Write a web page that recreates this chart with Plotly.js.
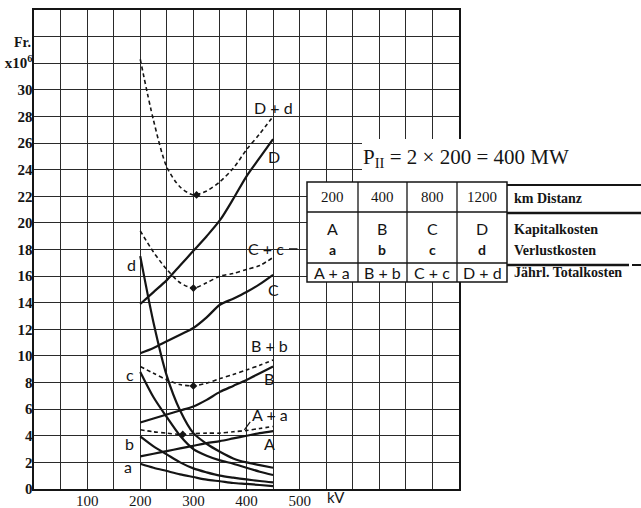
<!DOCTYPE html>
<html>
<head>
<meta charset="utf-8">
<script src="https://cdn.plot.ly/plotly-3.0.1.min.js"></script>
<style>
  body { margin: 0; background: #fff; }
  #chart { width: 641px; height: 508px; }
</style>
</head>
<body>
<div id="chart"></div>
<script>
// Spannung in kV
var kv = [200, 225, 250, 275, 300, 325, 350, 375, 400, 425, 450];

// Kapitalkosten (Fr. x 10^6)
var A = [2.45, 2.65, 2.85, 3.05, 3.25, 3.45, 3.6, 3.8, 4.0, 4.2, 4.35];
var B = [5.0, 5.3, 5.6, 5.9, 6.2, 6.7, 7.3, 7.75, 8.2, 8.7, 9.2];
var C = [10.2, 10.6, 11.1, 11.6, 12.1, 12.9, 13.85, 14.3, 14.8, 15.4, 16.1];
var D = [13.9, 14.8, 15.7, 16.8, 17.9, 19.0, 20.2, 21.8, 23.5, 24.9, 26.3];

// Verlustkosten
var a = [1.9, 1.6, 1.35, 1.1, 0.9, 0.7, 0.58, 0.45, 0.38, 0.3, 0.22];
var b = [3.95, 3.2, 2.6, 2.0, 1.55, 1.25, 1.0, 0.85, 0.72, 0.6, 0.5];
var c = [8.8, 6.9, 5.4, 4.0, 3.0, 2.5, 2.15, 1.9, 1.6, 1.3, 1.05];
var d = [17.5, 12.5, 8.5, 5.9, 4.2, 3.4, 2.8, 2.3, 2.0, 1.8, 1.6];

// Jährliche Totalkosten (gestrichelt)
var Aa = [4.45, 4.3, 4.2, 4.1, 4.15, 4.2, 4.2, 4.3, 4.4, 4.55, 4.7];
var Bb = [9.2, 8.7, 8.2, 7.85, 7.75, 7.95, 8.3, 8.6, 8.95, 9.3, 9.7];
var Cc = [19.4, 17.8, 16.5, 15.5, 15.1, 15.5, 16.0, 16.2, 16.5, 16.8, 17.4];
var Dd = [32.3, 27.7, 24.2, 22.7, 22.1, 22.4, 23.1, 24.1, 25.5, 26.7, 28.0];

// Minima der Totalkosten
var minKv = [280, 300, 300, 306];
var minCost = [4.1, 7.75, 15.1, 22.1];

// Achsen
var xTicks = [];
for (var i = 0; i <= 800; i += 50) xTicks.push(i);
var xText = xTicks.map(function (v) { return (v >= 100 && v <= 500 && v % 100 == 0) ? String(v) : ""; });
var yTicks = [];
for (var j = 0; j <= 36; j += 2) yTicks.push(j);
var yText = yTicks.map(function (v) { return v <= 30 ? String(v) : (v == 32 ? "x10<sup>6</sup>" : ""); });

// Tabelle
var distanz = ["200", "400", "800", "1200"];
var kapital = ["A", "B", "C", "D"];
var verlust = ["a", "b", "c", "d"];
var total = ["A + a", "B + b", "C + c", "D + d"];
var rowLabels = ["km Distanz", "Kapitalkosten", "Verlustkosten", "Jährl. Totalkosten"];

var ink = "#151515";
function solid(y) {
  return {x: kv, y: y, mode: "lines", line: {color: ink, width: 2.2, shape: "spline", smoothing: 0.8}};
}
function dashed(y) {
  return {x: kv, y: y, mode: "lines", line: {color: ink, width: 1.6, dash: "4px,3px", shape: "spline", smoothing: 0.8}};
}

var data = [solid(A), solid(B), solid(C), solid(D),
            solid(a), solid(b), solid(c), solid(d),
            dashed(Aa), dashed(Bb), dashed(Cc), dashed(Dd),
            {x: minKv, y: minCost, mode: "markers", marker: {color: ink, size: 6, symbol: "diamond"}}];

// Pixel -> paper (Plotbereich 34..459 x 10..489)
function px(x) { return (x - 34) / 425; }
function py(y) { return (489 - y) / 479; }

var shapes = [
  // weisser Grund hinter dem Titel
  {type: "rect", xref: "paper", yref: "paper", x0: px(362), x1: px(463), y0: py(182), y1: py(139),
   fillcolor: "#fff", line: {width: 0}, layer: "above"},
  // Tabelle
  {type: "rect", xref: "paper", yref: "paper", x0: px(307), x1: px(507), y0: py(282), y1: py(182),
   fillcolor: "#fff", line: {color: ink, width: 1.5}, layer: "above"},
  {type: "line", xref: "paper", yref: "paper", x0: px(307), x1: px(507), y0: py(212), y1: py(212), line: {color: ink, width: 1.3}, layer: "above"},
  {type: "line", xref: "paper", yref: "paper", x0: px(307), x1: px(507), y0: py(263), y1: py(263), line: {color: ink, width: 1.3}, layer: "above"},
  {type: "line", xref: "paper", yref: "paper", x0: px(358), x1: px(358), y0: py(182), y1: py(282), line: {color: ink, width: 1.3}, layer: "above"},
  {type: "line", xref: "paper", yref: "paper", x0: px(407), x1: px(407), y0: py(182), y1: py(282), line: {color: ink, width: 1.3}, layer: "above"},
  {type: "line", xref: "paper", yref: "paper", x0: px(457), x1: px(457), y0: py(182), y1: py(282), line: {color: ink, width: 1.3}, layer: "above"},
  {type: "line", xref: "paper", yref: "paper", x0: px(507), x1: px(641), y0: py(185), y1: py(185), line: {color: ink, width: 2}, layer: "above"},
  {type: "line", xref: "paper", yref: "paper", x0: px(507), x1: px(641), y0: py(213), y1: py(213), line: {color: ink, width: 2.5}, layer: "above"},
  {type: "line", xref: "paper", yref: "paper", x0: px(507), x1: px(629), y0: py(265), y1: py(265), line: {color: ink, width: 2.5}, layer: "above"},
  {type: "line", xref: "paper", yref: "paper", x0: px(632), x1: px(641), y0: py(265), y1: py(265), line: {color: ink, width: 2}, layer: "above"},
  // Hinweisstrich A + a
  {type: "line", xref: "x", yref: "y", x0: 407, x1: 396, y0: 5.05, y1: 4.45, line: {color: ink, width: 1.2}},
  // Strich hinter C + c
  {type: "line", xref: "x", yref: "y", x0: 480, x1: 496, y0: 18.05, y1: 18.05, line: {color: ink, width: 1.2}}
];

var lblFont = {family: "Lato, 'DejaVu Sans', sans-serif", size: 16, color: ink};
function lbl(t, x, y) {
  return {text: t, x: x, y: y, xref: "x", yref: "y", showarrow: false, font: lblFont,
          xanchor: "center", yanchor: "middle"};
}
function cell(t, x, y, f) {
  return {text: t, x: px(x), y: py(y), xref: "paper", yref: "paper", showarrow: false, font: f,
          xanchor: "center", yanchor: "middle"};
}

var numFont = {family: "'Liberation Serif', serif", size: 15, color: ink};
var capFont = {family: "Lato, sans-serif", size: 16, color: ink};
var smallFont = {family: "Lato, sans-serif", size: 14, color: ink, weight: "bold"};
var rowFont = {family: "'Liberation Serif', serif", size: 14, color: ink, weight: "bold"};
var colX = [332, 382, 432, 482];

var annotations = [
  lbl("D + d", 450, 28.7), lbl("D", 452, 25.0),
  lbl("C + c", 437, 18.1), lbl("C", 450, 15.0),
  lbl("B + b", 444, 10.8), lbl("B", 443, 8.3),
  lbl("A + a", 444, 5.6), lbl("A", 443, 3.4),
  lbl("d", 184, 16.9), lbl("c", 180, 8.6), lbl("b", 180, 3.4), lbl("a", 177, 1.7),
  cell("P<sub>II</sub> = 2 × 200 = 400 MW", 466, 158, {family: "'Liberation Serif', serif", size: 21, color: ink}),
  cell("Fr.", 22, 42, {family: "'Liberation Serif', serif", size: 14, color: ink, weight: "bold"}),
  cell("kV", 336, 497, {family: "Lato, sans-serif", size: 15, color: ink})
];
for (var k = 0; k < 4; k++) {
  annotations.push(cell(distanz[k], colX[k], 197, numFont));
  annotations.push(cell(kapital[k], colX[k], 228, capFont));
  annotations.push(cell(verlust[k], colX[k], 249, smallFont));
  annotations.push(cell(total[k], colX[k], 272, capFont));
}
var rowY = [198, 229, 250, 272];
for (var r = 0; r < 4; r++) {
  var an = cell(rowLabels[r], 512, rowY[r], rowFont);
  an.xanchor = "left";
  annotations.push(an);
}

var layout = {
  width: 641, height: 508,
  margin: {l: 34, r: 182, t: 10, b: 19},
  paper_bgcolor: "#fff", plot_bgcolor: "#fff",
  showlegend: false,
  xaxis: {range: [0, 800], tickvals: xTicks, ticktext: xText, ticks: "",
          showgrid: true, gridcolor: "#2a2a2a", gridwidth: 1, zeroline: false,
          showline: true, mirror: true, linecolor: ink, linewidth: 1.6,
          tickfont: {family: "'Liberation Serif', serif", size: 15, color: ink}, ticklabelstandoff: -3},
  yaxis: {range: [0, 36], tickvals: yTicks, ticktext: yText, ticks: "",
          showgrid: true, gridcolor: "#2a2a2a", gridwidth: 1, zeroline: false,
          showline: true, mirror: true, linecolor: ink, linewidth: 1.6,
          tickfont: {family: "'Liberation Serif', serif", size: 15, color: ink, weight: "bold"}, ticklabelstandoff: -3},
  shapes: shapes,
  annotations: annotations
};

Plotly.newPlot("chart", data, layout, {displayModeBar: false, staticPlot: true});
</script>
</body>
</html>
